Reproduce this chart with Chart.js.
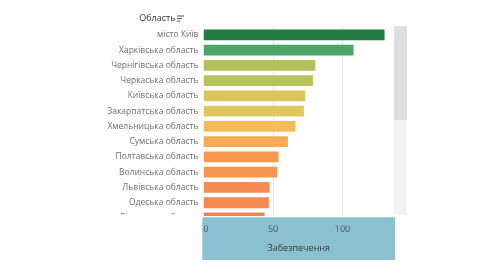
<!DOCTYPE html>
<html><head><meta charset="utf-8">
<script src="https://cdn.jsdelivr.net/npm/chart.js@4.4.1/dist/chart.umd.min.js"></script>
<style>html,body{margin:0;padding:0;background:#fff;overflow:hidden}#wrap{width:490px;height:275px;position:relative}canvas{display:block}</style>
</head><body><div id="wrap"><canvas id="c" width="490" height="275"></canvas></div>
<script>
const categories = ['місто Київ','Харківська область','Чернігівська область','Черкаська область','Київська область','Закарпатська область','Хмельницька область','Сумська область','Полтавська область','Волинська область','Львівська область','Одеська область','Вінницька область'];
const values = [130.2,107.9,80.4,78.7,73.2,72.2,66.0,60.7,54.0,53.0,47.5,47.0,43.9];
const xTicks = [0,50,100];
const axisTitle = 'Забезпечення';
const headerLabel = 'Область';
const barColors = ['#217a3f','#4fa366','#b6c05b','#b9c15c','#dac45c','#dfc75f','#f6ba5a','#f7a956','#f8974f','#f7944f','#f58b50','#f58a50','#ea8450'];

const overlay = {
  id:'overlay',
  afterDatasetsDraw(chart){
    const ctx = chart.ctx;
    ctx.save();
    ctx.fillStyle='#ffffff'; ctx.fillRect(0,214.5,200,60.5); ctx.fillRect(200,216,290,59);
    ctx.fillStyle='#89c1d0'; ctx.fillRect(202.3,217.3,192.7,42.7);
    ctx.fillStyle='#f2f2f2'; ctx.fillRect(394,26,13,189);
    ctx.fillStyle='#dedede'; ctx.fillRect(394,26,13,94);
    ctx.font='9px "Open Sans"'; ctx.fillStyle='#333'; ctx.textAlign='right'; ctx.textBaseline='middle';
    ctx.fillText(headerLabel,175.5,18);
    ctx.fillStyle='#555';
    ctx.fillRect(177,15.5,7,1); ctx.fillRect(177,18,5,1); ctx.fillRect(177,20.5,3,1);
    ctx.restore();
  }
};

new Chart(document.getElementById('c'), {
  type:'bar',
  data:{labels:categories, datasets:[{data:values, backgroundColor:barColors, barPercentage:0.71, categoryPercentage:1, borderWidth:0}]},
  options:{
    indexAxis:'y', responsive:false, animation:false, devicePixelRatio:1,
    layout:{padding:{left:0,right:96,top:27.2,bottom:21}},
    plugins:{legend:{display:false}, tooltip:{enabled:false}},
    scales:{
      x:{min:0, max:137, position:'bottom',
        afterBuildTicks: s => { s.ticks = xTicks.map(v=>({value:v})); },
        afterFit: s => { s.height = 28.4; },
        grid:{display:false, drawTicks:false, z:1},
        border:{display:false},
        ticks:{z:1, padding:-2, color:'#555', maxRotation:0, font:{family:'Open Sans', size:9},
          callback: v => v === 0 ? '  0' : String(v)},
        title:{display:true, text:axisTitle, color:'#3a3a3a', padding:{top:0,bottom:0}, font:{family:'Open Sans', size:9}}
      },
      xGrid:{axis:'x', type:'linear', min:0, max:137, position:'top',
        afterBuildTicks: s => { s.ticks = xTicks.map(v=>({value:v})); },
        afterFit: s => { s.height = 0; },
        grid:{drawTicks:false, lineWidth:1, color: c => (c.tick && c.tick.value===0) ? 'rgba(0,0,0,0)' : '#e4e7ea'},
        border:{display:false},
        ticks:{display:false}
      },
      y:{
        afterFit: s => { s.width = 203.5; },
        grid:{display:false, drawTicks:false}, border:{display:false},
        ticks:{autoSkip:false, padding:5, color:'#6e6e6e', font:{family:'Open Sans', size:8.5}}
      }
    }
  },
  plugins:[overlay]
});
</script></body></html>
